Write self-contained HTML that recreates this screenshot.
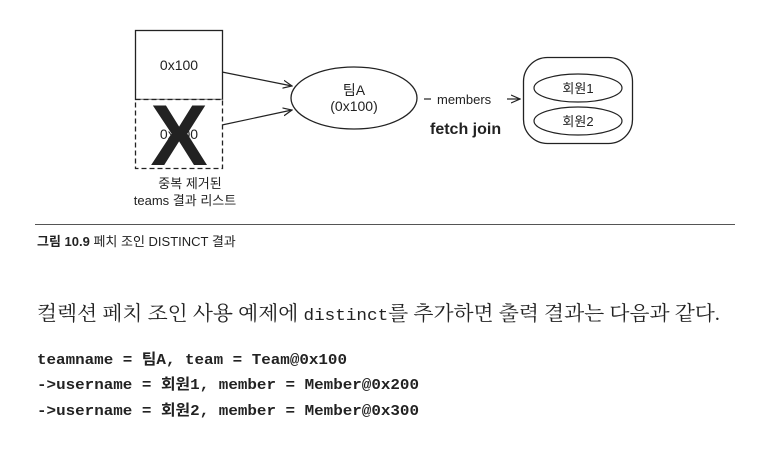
<!DOCTYPE html>
<html><head><meta charset="utf-8"><style>
body{margin:0;background:#fff;width:763px;height:471px;overflow:hidden}
</style></head><body>
<svg width="763" height="471" xmlns="http://www.w3.org/2000/svg" font-family="Liberation Sans, Noto Sans CJK KR, sans-serif">
<defs><marker id="a" markerWidth="10" markerHeight="10" refX="9" refY="5" orient="auto" markerUnits="userSpaceOnUse"><path d="M0,1 L9,5 L0,9" fill="none" stroke="#222" stroke-width="1.2"/></marker></defs>
<rect x="135.5" y="30.5" width="87" height="69" fill="#fff" stroke="#222" stroke-width="1.3"/>
<rect x="135.5" y="99.5" width="87" height="69" fill="#fff" stroke="#222" stroke-width="1.3" stroke-dasharray="5,3"/>
<text x="179" y="70" font-size="14" text-anchor="middle" fill="#222">0x100</text>
<text x="179" y="139" font-size="14" text-anchor="middle" fill="#222">0x100</text>
<text x="179" y="165" font-size="86" font-weight="bold" text-anchor="middle" fill="#222">X</text>
<text x="190" y="188" font-size="13" text-anchor="middle" fill="#222">중복 제거된</text>
<text x="185" y="205" font-size="13" text-anchor="middle" fill="#222">teams 결과 리스트</text>
<line x1="222" y1="72" x2="292" y2="86" stroke="#222" stroke-width="1.2" marker-end="url(#a)"/>
<line x1="222" y1="125" x2="292" y2="110" stroke="#222" stroke-width="1.2" marker-end="url(#a)"/>
<ellipse cx="354" cy="98" rx="63" ry="31" fill="#fff" stroke="#222" stroke-width="1.3"/>
<text x="354" y="95" font-size="14" text-anchor="middle" fill="#222">팀A</text>
<text x="354" y="111" font-size="14" text-anchor="middle" fill="#222">(0x100)</text>
<line x1="424" y1="99" x2="431" y2="99" stroke="#222" stroke-width="1.2"/>
<text x="437" y="104" font-size="13" fill="#222">members</text>
<line x1="507" y1="99" x2="520" y2="99" stroke="#222" stroke-width="1.2" marker-end="url(#a)"/>
<text x="430" y="134" font-size="16" font-weight="bold" fill="#222">fetch join</text>
<rect x="523.5" y="57.5" width="109" height="86" rx="24" fill="#fff" stroke="#222" stroke-width="1.3"/>
<ellipse cx="578" cy="88" rx="44" ry="14" fill="#fff" stroke="#222" stroke-width="1.2"/>
<ellipse cx="578" cy="121" rx="44" ry="14" fill="#fff" stroke="#222" stroke-width="1.2"/>
<text x="578" y="93" font-size="13" text-anchor="middle" fill="#222">회원1</text>
<text x="578" y="126" font-size="13" text-anchor="middle" fill="#222">회원2</text>
<line x1="35" y1="224.5" x2="735" y2="224.5" stroke="#555" stroke-width="1"/>
<text x="37" y="246" font-size="13" fill="#222"><tspan font-weight="bold">그림 10.9</tspan> 페치 조인 DISTINCT 결과</text>
<text x="37" y="320" font-size="20" fill="#222" font-family="Liberation Serif, Noto Serif CJK SC, serif" textLength="683" lengthAdjust="spacingAndGlyphs">컬렉션 페치 조인 사용 예제에 <tspan font-family="Liberation Mono, monospace" font-size="17">distinct</tspan>를 추가하면 출력 결과는 다음과 같다.</text>
<g font-family="Liberation Mono, Noto Sans CJK KR, monospace" font-size="15" font-weight="bold" fill="#222">
<text x="37" y="364" textLength="310" lengthAdjust="spacingAndGlyphs">teamname = 팀A, team = Team@0x100</text>
<text x="37" y="389" textLength="382" lengthAdjust="spacingAndGlyphs">-&gt;username = 회원1, member = Member@0x200</text>
<text x="37" y="415" textLength="382" lengthAdjust="spacingAndGlyphs">-&gt;username = 회원2, member = Member@0x300</text>
</g>
</svg>
</body></html>
